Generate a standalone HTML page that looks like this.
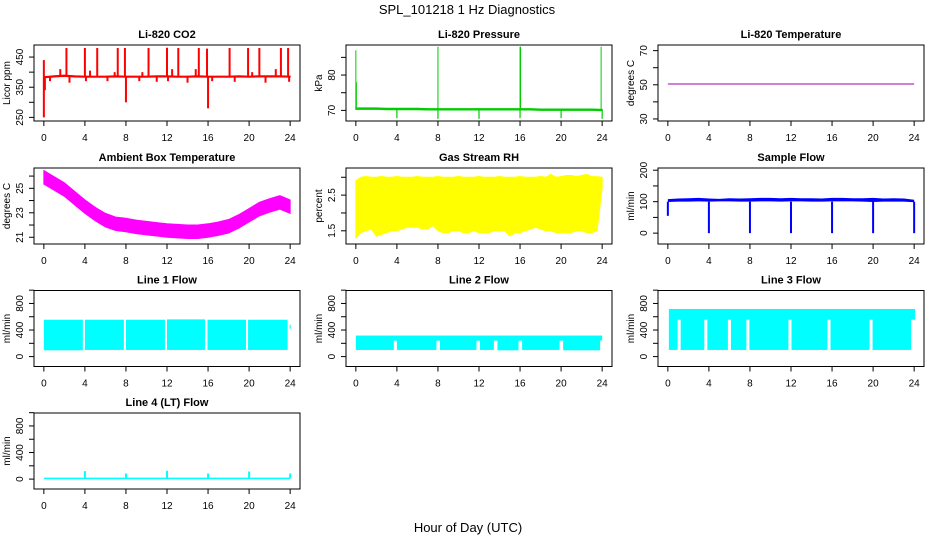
<!DOCTYPE html>
<html><head><meta charset="utf-8"><style>
html,body{margin:0;padding:0;background:#fff;}
svg{display:block;font-family:"Liberation Sans",Arial,sans-serif;}
</style></head><body>
<svg id="chart" width="936" height="540" viewBox="0 0 936 540">
<text x="467" y="14" text-anchor="middle" font-size="13">SPL_101218  1 Hz Diagnostics</text>
<text x="468" y="532" text-anchor="middle" font-size="13">Hour of Day (UTC)</text>
</svg>
<script>
// ---- data ----
const xTicks = [0,4,8,12,16,20,24];
const hours = [0,1,2,3,4,5,6,7,8,9,10,11,12,13,14,15,16,17,18,19,20,21,22,23,24];
// CO2
const co2Base = [383,386,388,386,385,385,385,386,385,385,385,386,386,385,385,386,385,385,385,386,385,386,386,386,385];
const co2SpikeHours = [2.2,4.0,5.2,7.2,7.9,10.2,12.0,13.1,15.1,15.9,18.1,19.9,21.0,23.1,23.8,0.0,1.6,4.5,6.9,9.6,12.5,14.8,20.3,22.6];
const co2SpikeTops = [480,480,480,480,480,480,481,480,480,478,480,480,480,480,480,440,410,405,400,400,410,410,400,410];
const co2DipHours = [0.0,0.1,8.0,16.0,0.6,2.5,4.1,6.2,9.3,11.0,12.1,14.0,16.4,18.6,21.6,23.9];
const co2DipLows = [250,340,300,280,370,365,370,370,370,368,370,365,370,368,365,368];
// Pressure
const presBase = [70.5,70.5,70.5,70.4,70.4,70.4,70.4,70.3,70.3,70.3,70.3,70.3,70.3,70.3,70.3,70.3,70.3,70.3,70.2,70.2,70.2,70.2,70.2,70.2,70.1];
const presSpikeHours = [0.0,0.05,8.0,16.0,16.05,23.9];
const presSpikeTops = [87,78,88,88,88,88];
const presDipHours = [4,8,12,16,20,24];
const presDipLows = [67.8,67.6,67.6,67.8,67.8,67.6];
// Li-820 temperature
const tempHours = [0,24];
const tempVals = [50.5,50.5];
// Ambient box temperature
const ambMid = [25.9,25.4,24.9,24.2,23.5,22.9,22.4,22.1,22.0,21.85,21.75,21.65,21.55,21.5,21.45,21.45,21.55,21.7,21.9,22.3,22.8,23.3,23.6,23.85,23.5];
const ambHalf = 0.55;
// RH (every half hour)
const rhHours = [0,0.5,1,1.5,2,2.5,3,3.5,4,4.5,5,5.5,6,6.5,7,7.5,8,8.5,9,9.5,10,10.5,11,11.5,12,12.5,13,13.5,14,14.5,15,15.5,16,16.5,17,17.5,18,18.5,19,19.5,20,20.5,21,21.5,22,22.5,23,23.5,24];
const rhLow = [1.3,1.45,1.5,1.55,1.35,1.4,1.45,1.5,1.5,1.55,1.6,1.6,1.6,1.55,1.55,1.65,1.5,1.45,1.45,1.5,1.5,1.45,1.45,1.5,1.45,1.45,1.45,1.5,1.5,1.5,1.35,1.45,1.45,1.5,1.55,1.6,1.55,1.5,1.5,1.45,1.45,1.45,1.45,1.5,1.5,1.45,1.45,1.5,2.7];
const rhHigh = [2.9,3.0,3.02,3.0,3.0,3.02,3.0,3.0,3.02,3.0,3.0,3.0,3.02,3.0,3.0,3.0,3.02,3.0,3.0,3.0,3.02,3.0,3.0,3.0,3.02,3.0,3.0,3.0,3.02,3.0,3.0,3.0,3.02,3.0,3.0,3.0,3.02,3.0,3.08,3.0,3.02,3.05,3.05,3.02,3.05,3.08,3.02,3.02,3.0];
// Sample flow
const sfLow = [99,100,100,101,100,101,101,100,100,101,101,100,101,101,100,100,101,101,101,100,99,100,100,100,98];
const sfHigh = [108,110,111,112,110,109,111,110,111,112,112,111,112,111,111,110,112,112,111,111,112,110,111,110,106];
const sfDipHours = [0,4,8,12,16,20,24];
const sfDipLows = [55,0,0,0,0,0,0];
// Line 1 flow
const l1SegStart = [0,4.0,8.0,12.0,15.95,19.9,23.95];
const l1SegEnd = [3.8,7.8,11.8,15.7,19.7,23.75,24.05];
const l1Low = [95,100,100,100,100,100,420];
const l1High = [555,555,555,560,555,555,480];
// Line 2 flow
const l2UpLow = 240, l2UpHigh = 317;
const l2SegStart = [0,4.0,8.2,12.1,13.8,16.2,20.2];
const l2SegEnd = [3.7,7.85,11.75,13.45,15.85,19.85,23.8];
const l2Low = [100,100,100,100,95,100,95];
// Line 3 flow
const l3UpLow = 555, l3UpHigh = 717;
const l3SegStart = [0.1,1.25,3.85,6.15,7.95,12.05,15.85,19.95];
const l3SegEnd = [0.95,3.55,5.85,7.65,11.75,15.55,19.65,23.7];
const l3Low = [100,100,100,100,100,100,100,100];
// Line 4 flow
const l4Low = 0, l4High = 22;
const l4SpikeHours = [4,8,12,16,20,24];
const l4SpikeTops = [120,85,125,85,115,85];

// ---- layout ----
const NS = "http://www.w3.org/2000/svg";
const svg = document.getElementById('chart');
const colLeft = [34,346,658], rowTop = [45,168,290.5,413], PW = 266, PH = 76;
function mk(tag, attrs, parent){const e=document.createElementNS(NS,tag);for(const k in attrs)e.setAttribute(k,attrs[k]);(parent||svg).appendChild(e);return e;}

function panel(col,row,title,ylab,ydom,yticks,ylabels,name){
  const L=colLeft[col],T=rowTop[row];
  const g=mk('g',{});
  
  
  const sx=h=>L+(h+0.96)/25.92*PW;
  const sy=v=>T+PH-(v-ydom[0])/(ydom[1]-ydom[0])*PH;
  const plot=mk('g',{},g);
  
  
  const box=mk('rect',{x:L,y:T,width:PW,height:PH,fill:'none',stroke:'#000','stroke-width':1},g);
  
  
  const t=mk('text',{x:L+PW/2,y:T-7,'text-anchor':'middle','font-size':11,'font-weight':'bold'},g);
  t.textContent=title;
  
  
  const xa=mk('g',{},g);
  
  
  xTicks.forEach(h=>{
    mk('line',{x1:sx(h),x2:sx(h),y1:T+PH,y2:T+PH+5,stroke:'#000'},xa);
    const tl=mk('text',{x:sx(h),y:T+PH+20,'text-anchor':'middle','font-size':10},xa);
    tl.textContent=h;
    
    
  });
  const ya=mk('g',{},g);
  
  
  yticks.forEach(v=>{
    mk('line',{x1:L-5,x2:L,y1:sy(v),y2:sy(v),stroke:'#000'},ya);
  });
  ylabels.forEach(v=>{
    const yl=mk('text',{x:0,y:0,'text-anchor':'middle','font-size':10,transform:`translate(${L-11},${sy(v)}) rotate(-90)`},ya);
    yl.textContent=v;
    
    
  });
  const yt=mk('text',{x:0,y:0,'text-anchor':'middle','font-size':10,transform:`translate(${L-24},${T+PH/2}) rotate(-90)`},g);
  yt.textContent=ylab;
  
  
  return {sx,sy,plot};
}
function vseg(p,x,y1,y2,c,w){mk('line',{x1:x,x2:x,y1:y1,y2:y2,stroke:c,'stroke-width':w||1.5},p.plot);}
function band(p,xs,lo,hi,c){
  const pts=[];xs.forEach((h,i)=>pts.push(p.sx(h)+','+p.sy(hi[i])));
  for(let i=xs.length-1;i>=0;i--)pts.push(p.sx(xs[i])+','+p.sy(lo[i]));
  mk('polygon',{points:pts.join(' '),fill:c,stroke:c,'stroke-width':1},p.plot);
}
function rectBand(p,x1,x2,lo,hi,c){mk('rect',{x:p.sx(x1),y:p.sy(hi),width:Math.max(1,p.sx(x2)-p.sx(x1)),height:p.sy(lo)-p.sy(hi),fill:c},p.plot);}

// CO2
let p=panel(0,0,'Li-820 CO2','Licor ppm',[238,490],[250,300,350,400,450],[250,350,450],'co2');
band(p,hours,co2Base.map(v=>v-2),co2Base.map(v=>v+2),'#ff0000');
co2SpikeHours.forEach((h,i)=>vseg(p,p.sx(h),p.sy(385),p.sy(co2SpikeTops[i]),'#ff0000',2));
co2DipHours.forEach((h,i)=>vseg(p,p.sx(h),p.sy(385),p.sy(co2DipLows[i]),'#ff0000',2));

// Pressure
p=panel(1,0,'Li-820 Pressure','kPa',[67,88.5],[70,75,80,85],[70,80],'pressure');
band(p,hours,presBase.map(v=>v-0.2),presBase.map(v=>v+0.2),'#00cc00');
presSpikeHours.forEach((h,i)=>vseg(p,p.sx(h),p.sy(70.3),p.sy(presSpikeTops[i]),'#00cc00',1));
presDipHours.forEach((h,i)=>vseg(p,p.sx(h),p.sy(70.3),p.sy(presDipLows[i]),'#00cc00',1.2));

// Li-820 temperature
p=panel(2,0,'Li-820 Temperature','degrees C',[28.8,73.3],[30,40,50,60,70],[30,50,70],'licor-temperature');
mk('polyline',{points:tempHours.map((h,i)=>p.sx(h)+','+p.sy(tempVals[i])).join(' '),fill:'none',stroke:'#a000a0','stroke-width':1},p.plot);

// Ambient
p=panel(0,1,'Ambient Box Temperature','degrees C',[20.45,26.66],[21,22,23,24,25,26],[21,23,25],'ambient-temperature');
band(p,hours,ambMid.map(v=>v-ambHalf),ambMid.map(v=>v+ambHalf),'#ff00ff');

// RH
p=panel(1,1,'Gas Stream RH','percent',[1.13,3.26],[1.5,2,2.5,3],[1.5,2.5],'gas-stream-rh');
band(p,rhHours,rhLow,rhHigh,'#ffff00');

// Sample flow
p=panel(2,1,'Sample Flow','ml/min',[-34.5,207],[0,50,100,150,200],[0,100,200],'sample-flow');
mk('polygon',{points:hours.map((h,i)=>p.sx(h)+','+p.sy(sfHigh[i])).concat(hours.slice().reverse().map((h,j)=>p.sx(h)+','+p.sy(sfLow[hours.length-1-j]))).join(' '),fill:'#0000ff',stroke:'none'},p.plot);
sfDipHours.forEach((h,i)=>vseg(p,p.sx(h),p.sy(100),p.sy(sfDipLows[i]),'#0000ff',2));

const flowDom=[-149,995], flowTicks=[0,200,400,600,800,1000], flowLabels=[0,400,800];
// Line 1
p=panel(0,2,'Line 1 Flow','ml/min',flowDom,flowTicks,flowLabels,'line1-flow');
l1SegStart.forEach((s,i)=>rectBand(p,s,l1SegEnd[i],l1Low[i],l1High[i],'#00ffff'));
// Line 2
p=panel(1,2,'Line 2 Flow','ml/min',flowDom,flowTicks,flowLabels,'line2-flow');
rectBand(p,0,24,l2UpLow,l2UpHigh,'#00ffff');
l2SegStart.forEach((s,i)=>rectBand(p,s,l2SegEnd[i],l2Low[i],l2UpLow+5,'#00ffff'));
// Line 3
p=panel(2,2,'Line 3 Flow','ml/min',flowDom,flowTicks,flowLabels,'line3-flow');
rectBand(p,0.1,24.1,l3UpLow,l3UpHigh,'#00ffff');
l3SegStart.forEach((s,i)=>rectBand(p,s,l3SegEnd[i],l3Low[i],l3UpLow+5,'#00ffff'));
// Line 4
p=panel(0,3,'Line 4 (LT) Flow','ml/min',flowDom,flowTicks,flowLabels,'line4-flow');
rectBand(p,0,24,l4Low,l4High,'#00ffff');
l4SpikeHours.forEach((h,i)=>vseg(p,p.sx(h),p.sy(10),p.sy(l4SpikeTops[i]),'#00ffff',2));
</script>
</body></html>
